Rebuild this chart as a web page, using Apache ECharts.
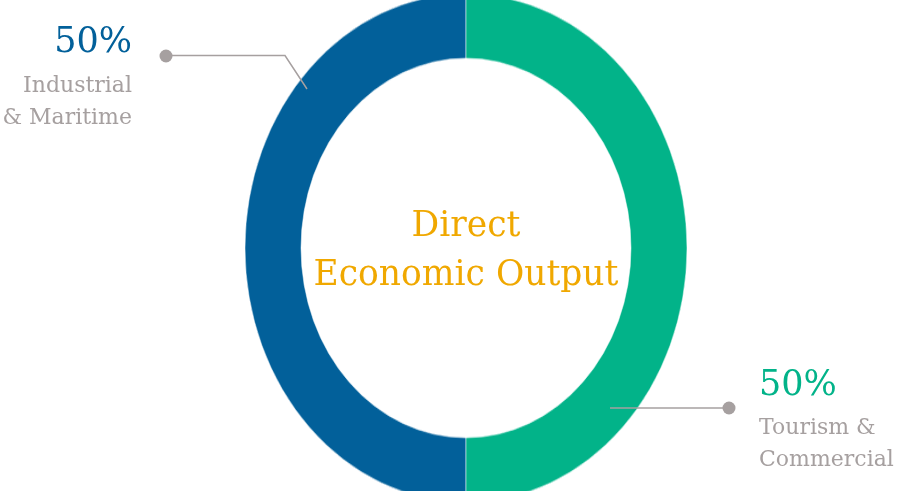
<!DOCTYPE html>
<html>
<head>
<meta charset="utf-8">
<script src="https://cdn.jsdelivr.net/npm/echarts@6/dist/echarts.min.js"></script>
<style>
  html, body { margin: 0; padding: 0; background: #ffffff; overflow: hidden; }
  #wrap { position: relative; width: 899px; height: 491px; overflow: hidden; }
  #ring { position: absolute; left: 0; top: 0; width: 899px; height: 491px;
          transform: scaleY(1.15); transform-origin: 0 248px; }
  #labels { position: absolute; left: 0; top: 0; width: 899px; height: 491px; }
</style>
</head>
<body>
<div id="wrap">
  <div id="ring"></div>
  <div id="labels"></div>
</div>
<script>
// ---- data ----
const categories = ['Industrial\n& Maritime', 'Tourism &\nCommercial'];
const values = [50, 50];
const colors = ['#02609A', '#02B389'];
const centerTitle = 'Direct\nEconomic Output';

const total = values.reduce((a, b) => a + b, 0);
const pct = values.map(v => Math.round(v / total * 100) + '%');

const FONT = '"DejaVu Serif", "Liberation Serif", serif';
const GREY = '#A6A0A0';

// ---- ring (pie, stretched vertically to an ellipse) ----
const ring = echarts.init(document.getElementById('ring'), null, { renderer: 'canvas' });
ring.setOption({
  animation: false,
  series: [{
    type: 'pie',
    center: [466, 248],
    radius: [165, 221],
    startAngle: 90,
    clockwise: false,
    silent: true,
    label: { show: false },
    labelLine: { show: false },
    itemStyle: { borderColor: 'rgba(255,255,255,0.5)', borderWidth: 1 },
    data: categories.map((c, i) => ({ name: c, value: values[i], itemStyle: { color: colors[i] } }))
  }]
});

// ---- labels / annotations overlay ----
const lab = echarts.init(document.getElementById('labels'), null, { renderer: 'canvas' });
lab.setOption({
  animation: false,
  backgroundColor: 'transparent',
  graphic: [
    { type: 'text', style: { text: centerTitle, x: 466, y: 252, align: 'center', verticalAlign: 'middle',
      font: '34.5px ' + FONT, fill: '#F0A800', lineHeight: 49 } },

    { type: 'text', style: { text: pct[0], x: 132, y: 43, align: 'right', verticalAlign: 'middle',
      font: '35px ' + FONT, fill: colors[0] } },
    { type: 'text', style: { text: categories[0], x: 132, y: 102, align: 'right', verticalAlign: 'middle',
      font: '22px ' + FONT, fill: GREY, lineHeight: 32 } },
    { type: 'polyline', shape: { points: [[172, 55.5], [285, 55.5], [307, 89]] },
      style: { stroke: GREY, lineWidth: 1.5, fill: null } },
    { type: 'circle', shape: { cx: 166, cy: 56, r: 6.5 }, style: { fill: GREY } },

    { type: 'text', style: { text: pct[1], x: 759, y: 386, align: 'left', verticalAlign: 'middle',
      font: '35px ' + FONT, fill: colors[1] } },
    { type: 'text', style: { text: categories[1], x: 759, y: 444, align: 'left', verticalAlign: 'middle',
      font: '22px ' + FONT, fill: GREY, lineHeight: 32 } },
    { type: 'polyline', shape: { points: [[610, 408], [723, 408]] },
      style: { stroke: GREY, lineWidth: 1.5, fill: null } },
    { type: 'circle', shape: { cx: 729, cy: 408, r: 6.5 }, style: { fill: GREY } }
  ]
});
</script>
</body>
</html>
